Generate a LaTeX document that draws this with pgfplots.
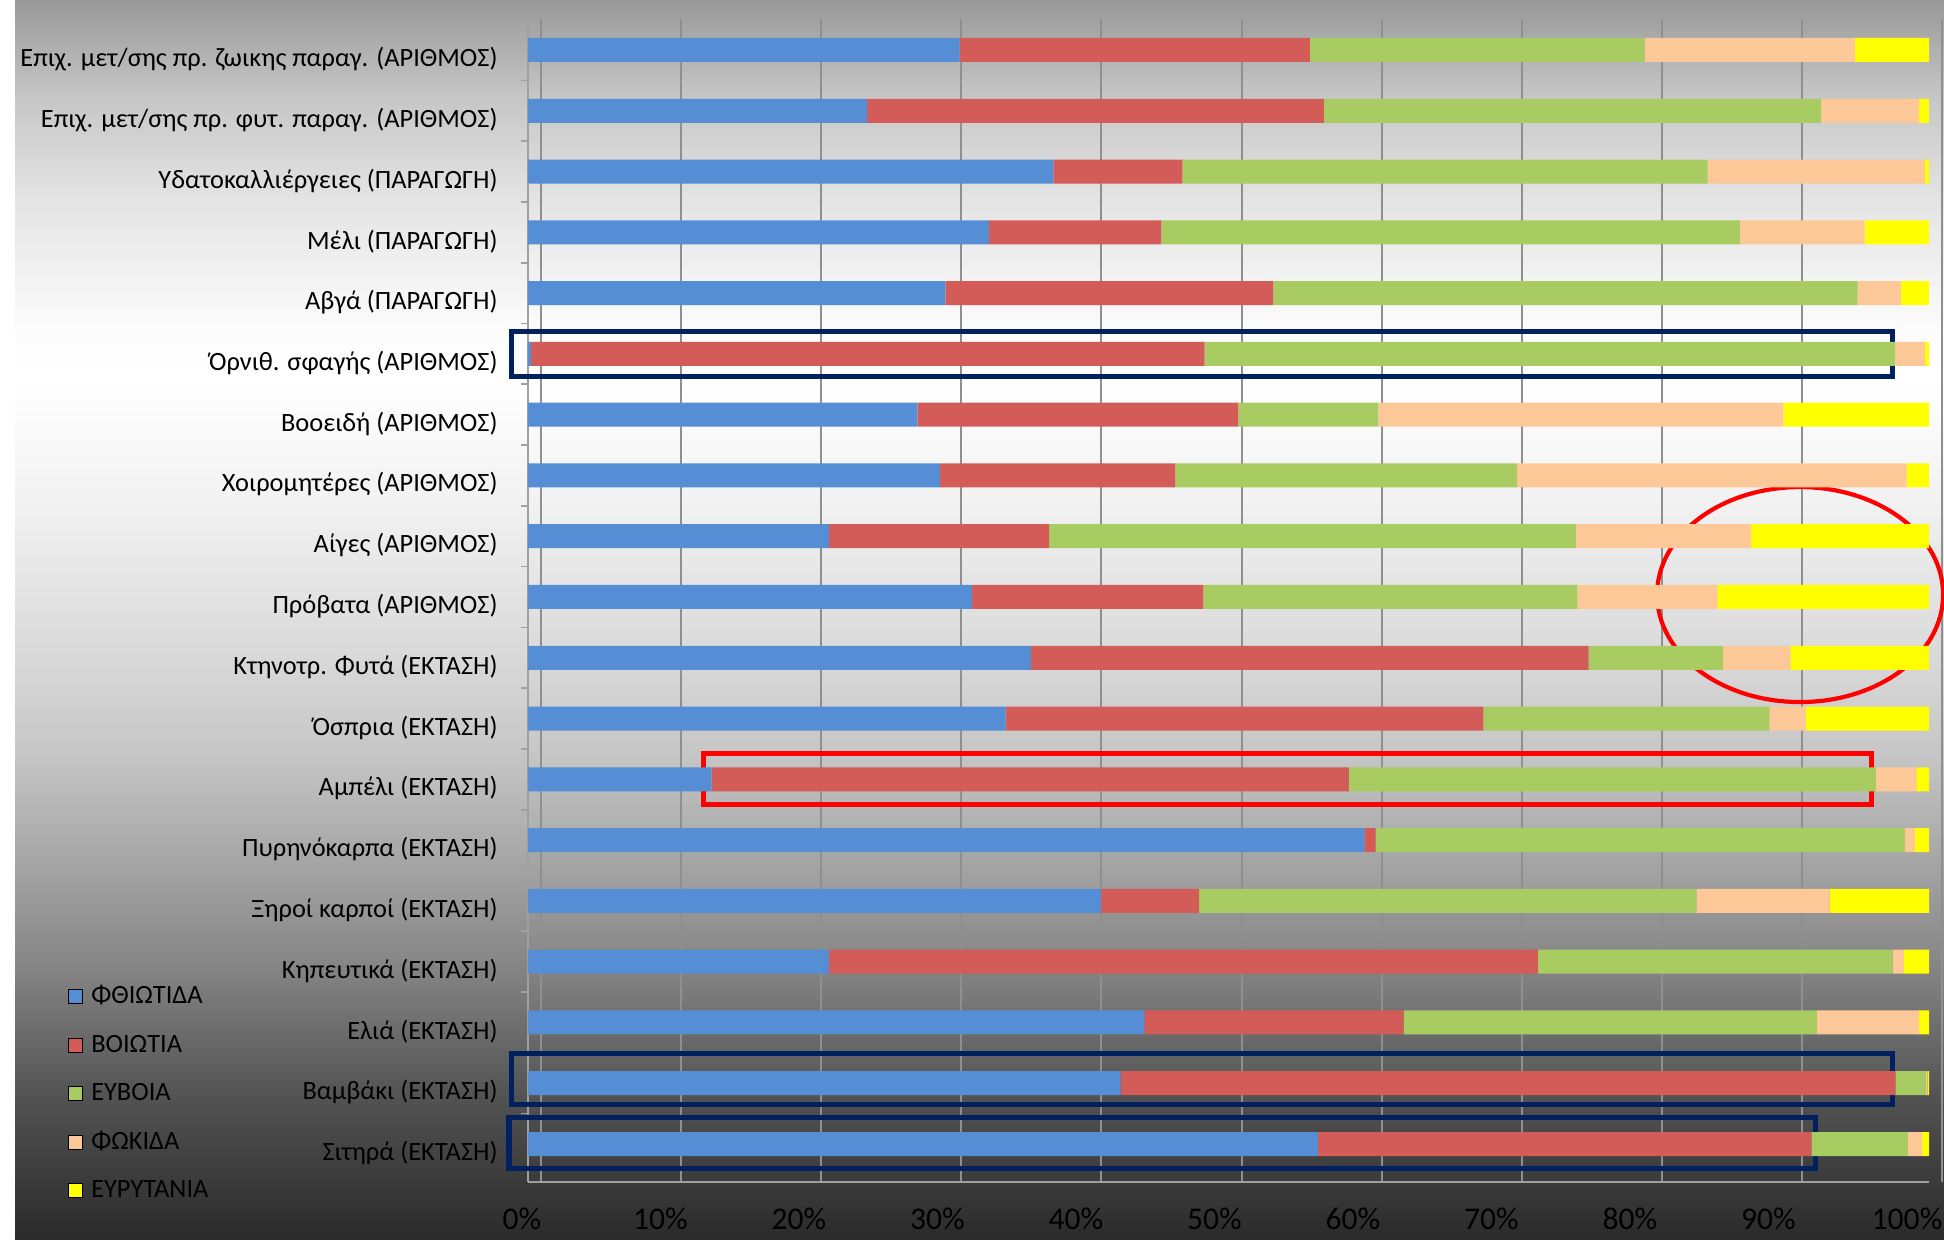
\documentclass[border=0pt]{standalone}
\usepackage{fontspec}
\setmainfont{Carlito}
\usepackage{pgfplots}
\usepackage{pgfplotstable}
\pgfplotsset{compat=1.18}

\definecolor{cBlue}{HTML}{558ED5}
\definecolor{cRed}{HTML}{D35C59}
\definecolor{cGreen}{HTML}{A8CC62}
\definecolor{cPeach}{HTML}{FCC897}
\definecolor{cYellow}{HTML}{FFFF00}
\definecolor{navy}{HTML}{002060}
\definecolor{gridGray}{HTML}{8F8F8F}
\definecolor{lineGray}{HTML}{A0A0A0}

% background: grey at the top, white a third of the way down, near black at the bottom
\pgfdeclareverticalshading{bgshade}{100bp}{%
  rgb(0bp)=(0.165,0.165,0.165);
  rgb(25bp)=(0.165,0.165,0.165);
  rgb(30.65bp)=(0.32,0.32,0.32);
  rgb(36.29bp)=(0.53,0.53,0.53);
  rgb(44.76bp)=(0.78,0.78,0.78);
  rgb(48.79bp)=(0.855,0.855,0.855);
  rgb(54.84bp)=(0.949,0.949,0.949);
  rgb(59.68bp)=(1,1,1);
  rgb(61.69bp)=(0.988,0.988,0.988);
  rgb(66.94bp)=(0.894,0.894,0.894);
  rgb(70.97bp)=(0.78,0.78,0.78);
  rgb(75bp)=(0.6,0.6,0.6);
  rgb(100bp)=(0.6,0.6,0.6)}

% share of each prefecture, rows from bottom (y=1) to top (y=19)
\pgfplotstableread{
y  a    b    c    d    e
19 30.8 25.0 23.9 15.0 5.3
18 24.2 32.6 35.5 7.0  0.7
17 37.5 9.2  37.5 15.5 0.3
16 32.9 12.3 41.3 8.9  4.6
15 29.8 23.4 41.7 3.1  2.0
14 0.2  48.1 49.3 2.1  0.3
13 27.8 22.9 10.0 28.9 10.4
12 29.4 16.8 24.4 27.8 1.6
11 21.5 15.7 37.6 12.5 12.7
10 31.7 16.5 26.7 10.0 15.1
9  35.9 39.8 9.6  4.8  9.9
8  34.1 34.1 20.4 2.6  8.8
7  13.1 45.5 37.6 2.9  0.9
6  59.7 0.8  37.8 0.7  1.0
5  40.9 7.0  35.5 9.5  7.1
4  21.5 50.6 25.3 0.8  1.8
3  44.0 18.5 29.5 7.3  0.7
2  42.3 55.3 2.2  0.1  0.1
1  56.4 35.2 6.9  1.0  0.5
}\shares

\begin{document}
\begin{tikzpicture}
\useasboundingbox (-264pt,-29pt) rectangle (708pt,591pt);
\clip (-264pt,-29pt) rectangle (708pt,591pt);
\shade[shading=bgshade] (-264pt,-29pt) rectangle (708pt,591pt);
\fill[white] (-264pt,-29pt) rectangle (-256.5pt,591pt);
\begin{axis}[
  at={(0pt,0pt)}, anchor=south west,
  scale only axis, width=700.5pt, height=581.5pt,
  xmin=0, xmax=100, ymin=0.375, ymax=19.51,
  xbar stacked, bar width=12pt,
  clip=false,
  axis x line*=bottom, axis y line*=left,
  axis line style={draw=lineGray, line width=1pt},
  xtick={0,10,...,100},
  xticklabels={0\%,10\%,20\%,30\%,40\%,50\%,60\%,70\%,80\%,90\%,100\%},
  xmajorgrids=true,
  ytick={1,...,19},
  yticklabels={
    {Σιτηρά (ΕΚΤΑΣΗ)},
    {Βαμβάκι (ΕΚΤΑΣΗ)},
    {Ελιά (ΕΚΤΑΣΗ)},
    {Κηπευτικά (ΕΚΤΑΣΗ)},
    {Ξηροί καρποί (ΕΚΤΑΣΗ)},
    {Πυρηνόκαρπα (ΕΚΤΑΣΗ)},
    {Αμπέλι (ΕΚΤΑΣΗ)},
    {Όσπρια (ΕΚΤΑΣΗ)},
    {Κτηνοτρ. Φυτά (ΕΚΤΑΣΗ)},
    {Πρόβατα (ΑΡΙΘΜΟΣ)},
    {Αίγες (ΑΡΙΘΜΟΣ)},
    {Χοιρομητέρες (ΑΡΙΘΜΟΣ)},
    {Βοοειδή (ΑΡΙΘΜΟΣ)},
    {Όρνιθ. σφαγής (ΑΡΙΘΜΟΣ)},
    {Αβγά (ΠΑΡΑΓΩΓΗ)},
    {Μέλι (ΠΑΡΑΓΩΓΗ)},
    {Υδατοκαλλιέργειες (ΠΑΡΑΓΩΓΗ)},
    {Επιχ. μετ/σης πρ. φυτ. παραγ. (ΑΡΙΘΜΟΣ)},
    {Επιχ. μετ/σης πρ. ζωικης παραγ. (ΑΡΙΘΜΟΣ)}},
  minor ytick={1.5,2.5,...,18.5},
  major tick length=0pt, minor tick length=3.5pt, tick align=outside,
  tick style={draw=lineGray, line width=0.8pt},
  % grid sits on the back wall of the 3-D original, a little right of the bars
  major x grid style={draw=gridGray, line width=1pt, xshift=6.5pt},
  % tick labels are set a bit tighter than the bar scale
  xticklabel style={font=\fontsize{15.8}{18}\selectfont, inner sep=0pt, anchor=north, yshift=-13pt, xshift={-3pt-0.8pt*\ticknum}},
  yticklabel style={font=\fontsize{13.2}{15}\selectfont, inner sep=0pt, anchor=east, xshift=-15pt, yshift=-4.5pt},
  legend style={at={(axis description cs:-0.3283,0.169)}, anchor=north west,
    draw=none, fill=none, inner sep=0pt,
    font=\fontsize{13.2}{15}\selectfont,
    row sep=13.25pt, column sep=4pt,
    nodes={inner sep=0pt, text height=9pt, text depth=2pt}},
  legend cell align=left,
  legend image code/.code={\fill[#1] (0pt,-3.5pt) rectangle (7pt,3.5pt);},
]
\addlegendimage{fill=cBlue}
\addlegendimage{fill=cRed}
\addlegendimage{fill=cGreen}
\addlegendimage{fill=cPeach}
\addlegendimage{fill=cYellow}

\addplot[fill=cBlue, draw=none] table[x=a, y=y] {\shares};
\addplot[fill=cRed, draw=none] table[x=b, y=y] {\shares};
\addplot[fill=cGreen, draw=none] table[x=c, y=y] {\shares};
\addplot[fill=cPeach, draw=none] table[x=d, y=y] {\shares};
\addplot[fill=cYellow, draw=none] table[x=e, y=y] {\shares};

\legend{ΦΘΙΩΤΙΔΑ, ΒΟΙΩΤΙΑ, ΕΥΒΟΙΑ, ΦΩΚΙΔΑ, ΕΥΡΥΤΑΝΙΑ}

% highlight boxes
\draw[navy, line width=2.6pt] (axis cs:-1.2,13.63) rectangle (axis cs:97.4,14.37);
\draw[navy, line width=2.6pt] (axis cs:-1.2,1.65) rectangle (axis cs:97.4,2.49);
\draw[navy, line width=2.6pt] (axis cs:-1.35,0.6) rectangle (axis cs:91.9,1.44);
\draw[red, line width=2.6pt] (axis cs:12.5,6.58) rectangle (axis cs:95.9,7.42);
\draw[red, line width=2.1pt] (axis cs:90.8,10.04) ellipse [x radius=71.5pt, y radius=53.75pt];
\end{axis}
\end{tikzpicture}
\end{document}
